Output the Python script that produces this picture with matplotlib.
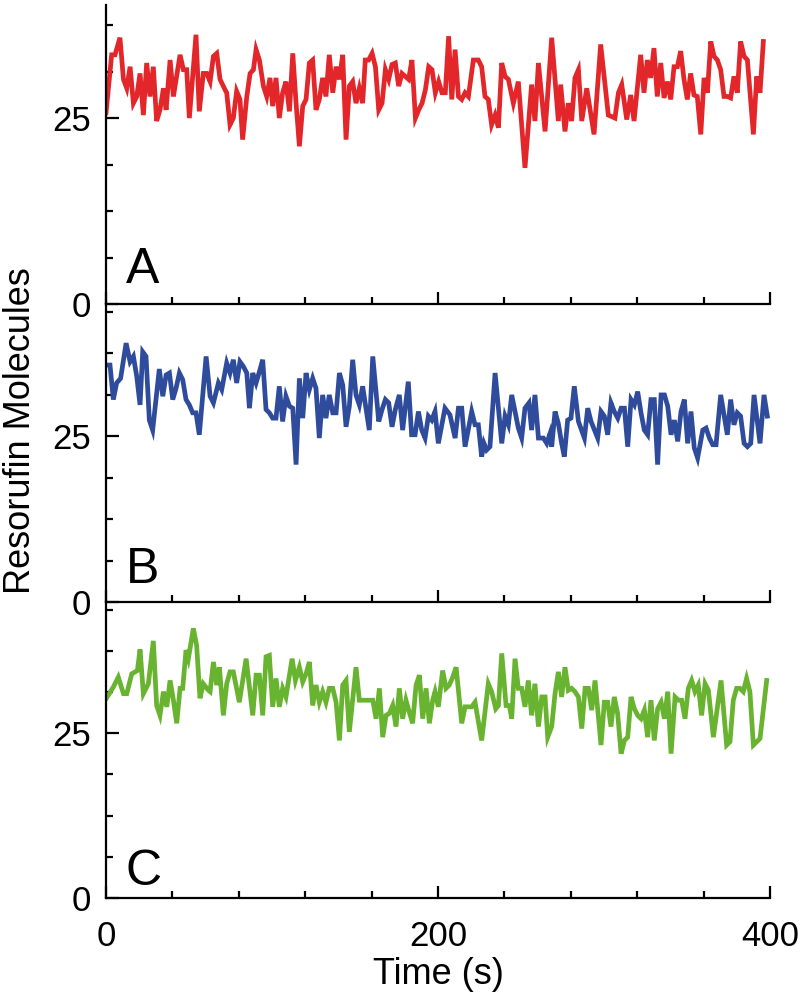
import matplotlib
matplotlib.use("Agg")
import matplotlib.pyplot as plt
from matplotlib.ticker import FixedLocator, MultipleLocator

plt.rcParams['font.family'] = ['Liberation Sans', 'DejaVu Sans']

# panel A (red)
t_a = [0, 3.4, 5.4, 8.4, 10.5, 12.5, 14.5, 16.5, 18.5, 20.5, 22.5, 24.5, 26.5, 28.5, 30.5,
       32.5, 34.6, 36.2, 38.6, 40.6, 44.6, 46.6, 48.6, 50.2, 54.2, 56.2, 58.6, 60.7, 62.7,
       64.7, 66.7, 68.7, 71.7, 72.7, 74.7, 76.7, 78.7, 80.7, 82.3, 84.8, 86.8, 88.8, 90.4,
       92.4, 94.8, 96.8, 98.8, 100.4, 102.4, 104.4, 106.4, 108.4, 110.5, 112.5, 114.5, 116.5,
       118.5, 120.5, 122.5, 124.5, 126.5, 128.5, 130.5, 132.5, 134.5, 136.6, 138.6, 140.6,
       142.6, 144.6, 146.6, 148.6, 150.6, 152.6, 154.6, 156.2, 158.2, 160.3, 162.3, 164.3,
       166.3, 168.3, 170.3, 172.3, 174.3, 176.3, 178.3, 180.3, 182.3, 184.3, 186.4, 188.4,
       190.4, 192.4, 194.4, 196.4, 198.4, 200.4, 202.4, 204.4, 206.4, 208.3, 210.3, 212.3,
       214.3, 216.3, 218.3, 221.3, 224.3, 226.3, 228.3, 230.3, 232.3, 234.4, 236.4, 238.4,
       240.4, 242.4, 245.4, 248.4, 252.4, 256.4, 258.4, 260.5, 264.5, 268.5, 272.5, 273.9,
       276.5, 278.5, 280.5, 282.5, 284.6, 286.6, 289.6, 294.0, 298.0, 302.6, 306.6, 308.7,
       310.7, 313.7, 316.1, 318.1, 322.1, 324.1, 326.1, 328.1, 330.1, 332.1, 334.2, 336.2,
       338.2, 340.2, 342.2, 344.2, 346.2, 348.2, 350.2, 352.2, 354.2, 356.2, 358.3, 360.3,
       362.3, 364.3, 366.3, 368.3, 370.3, 372.3, 374.3, 376.3, 378.3, 380.3, 382.3, 384.4,
       386.4, 390.0, 392.0, 394.0, 396.0]
a_vals = [25.7, 33.5, 33.5, 35.8, 30.2, 29.0, 31.9, 27.0, 27.9, 31.0, 25.4, 32.4, 27.9, 31.9, 24.6,
          26.1, 29.0, 26.1, 32.8, 27.9, 33.5, 31.5, 31.5, 25.0, 36.2, 25.9, 31.0, 31.0, 29.9,
          33.3, 33.7, 30.2, 28.8, 28.4, 24.1, 25.0, 28.6, 27.5, 22.1, 27.9, 31.0, 31.5, 34.2,
          32.8, 29.3, 27.9, 30.4, 26.6, 30.4, 25.0, 28.4, 29.9, 25.9, 33.7, 27.0, 21.2,
          26.6, 27.5, 32.4, 32.8, 26.1, 27.5, 30.4, 27.9, 33.5, 28.4, 31.9, 30.2,
          33.5, 22.1, 29.3, 29.9, 27.0, 29.0, 27.0, 32.8, 32.8, 33.7, 31.9, 26.1,
          27.0, 31.5, 30.2, 32.2, 32.4, 29.3, 31.0, 30.6, 30.2, 32.8, 25.0, 26.1,
          27.0, 28.8, 31.9, 31.5, 28.4, 29.9, 28.4, 28.4, 36.0, 27.5, 34.2, 27.9,
          27.5, 28.4, 27.9, 32.8, 32.8, 31.9, 27.9, 27.5, 24.1, 25.4, 23.7, 32.4,
          30.6, 30.2, 27.0, 29.9, 18.3, 29.5, 24.6, 32.4, 23.2, 35.8, 24.6, 29.5,
          23.2, 27.0, 24.6, 30.4, 31.5, 24.6, 29.0, 22.8, 34.9, 25.4, 25.0, 28.4,
          29.5, 24.8, 28.1, 24.6, 33.5, 28.4, 32.8, 30.4, 34.4, 27.9, 32.4, 27.7,
          29.9, 27.5, 31.9, 31.9, 34.0, 30.2, 27.5, 31.0, 28.1, 27.9, 22.8, 30.4,
          28.4, 35.3, 33.3, 32.8, 31.5, 27.9, 27.9, 27.7, 30.6, 28.4, 35.3, 33.3,
          32.8, 22.8, 30.6, 28.4, 35.3]

# panel B (blue)
t_b = [0, 2.4, 4.4, 6.4, 8.8, 12.1, 14.5, 16.5, 18.5, 20.5, 22.1, 24.1, 26.1, 28.1, 32.1, 34.2,
       36.2, 38.2, 40.2, 42.2, 44.2, 46.2, 48.2, 50.2, 52.2, 54.2, 56.2, 60.3, 62.7, 64.7,
       67.7, 69.7, 72.7, 74.7, 76.7, 78.7, 80.7, 82.7, 84.8, 86.4, 88.4, 90.4, 92.4, 94.4,
       96.4, 98.4, 100.4, 102.4, 104.4, 106.4, 108.4, 110.5, 112.5, 114.5, 116.5, 118.5,
       120.5, 122.5, 124.5, 126.5, 128.5, 130.5, 132.5, 134.5, 136.6, 138.6, 140.6, 142.6,
       144.6, 146.6, 148.6, 150.6, 152.6, 154.6, 158.6, 160.7, 164.3, 166.3, 168.3, 170.3,
       172.3, 174.3, 176.7, 178.7, 182.1, 184.1, 186.2, 188.2, 190.2, 192.2, 194.2, 196.2,
       198.2, 200.2, 204.2, 207.2, 210.3, 212.3, 214.3, 216.3, 220.3, 222.3, 224.3, 226.3,
       227.7, 229.3, 231.3, 234.4, 238.4, 240.4, 242.4, 244.4, 246.4, 248.4, 250.4, 252.4,
       254.8, 256.4, 258.4, 260.5, 263.5, 265.5, 267.5, 268.5, 270.5, 272.5, 274.5, 276.1,
       278.1, 280.1, 282.1, 284.6, 288.2, 290.2, 292.2, 296.2, 298.2, 300.2, 302.2, 304.2,
       306.2, 308.3, 310.3, 312.3, 314.3, 316.3, 318.3, 320.3, 322.3, 324.3, 326.3, 328.3,
       330.3, 332.3, 334.4, 336.4, 338.4, 340.4, 342.4, 344.4, 346.4, 348.4, 350.4, 352.4,
       354.4, 356.4, 359.5, 361.5, 363.5, 365.5, 367.5, 370.3, 374.3, 376.3, 378.3, 380.3,
       382.3, 384.4, 386.4, 388.4, 390.4, 394.0, 396.4, 398.4]
b_vals = [35.7, 35.7, 30.5, 33.0, 33.7, 39.0, 36.2, 37.0, 34.0, 29.7, 37.7, 37.0, 27.4, 25.9, 35.1, 31.0,
          34.2, 34.5, 30.5, 32.2, 34.5, 33.5, 30.5, 29.7, 28.5, 28.5, 25.2, 37.0, 31.0, 30.0,
          33.0, 32.0, 36.0, 34.5, 36.5, 33.0, 36.2, 35.5, 34.5, 29.2, 34.5, 33.0, 34.7, 36.5,
          29.0, 28.5, 27.7, 27.7, 32.5, 27.2, 31.0, 29.5, 29.2, 20.7, 33.7, 27.7,
          34.5, 32.0, 33.7, 32.2, 24.7, 31.2, 27.7, 31.2, 28.5, 28.5, 34.5, 32.7,
          26.4, 29.5, 36.5, 31.2, 29.7, 32.5, 25.9, 37.0, 27.2, 29.0, 30.5, 30.0,
          26.4, 29.0, 31.2, 25.9, 33.2, 25.2, 25.2, 28.7, 25.9, 24.7, 28.0, 27.4,
          28.7, 23.9, 29.2, 28.2, 24.7, 29.2, 29.2, 23.4, 28.7, 26.7, 26.7, 21.9,
          23.9, 22.9, 23.4, 34.5, 23.9, 28.0, 26.7, 31.2, 28.7, 26.2, 24.7, 29.2,
          30.0, 25.9, 31.2, 24.7, 24.7, 23.9, 25.4, 23.4, 28.7, 26.9, 23.9, 21.9,
          27.4, 27.7, 32.5, 27.2, 24.7, 29.2, 27.2, 24.7, 28.7, 28.0, 25.2, 30.0,
          28.7, 27.7, 29.2, 29.2, 23.4, 30.5, 29.7, 31.7, 28.5, 25.9, 25.2, 30.5,
          30.5, 20.7, 31.2, 31.2, 29.5, 25.2, 27.4, 24.2, 28.7, 30.5, 23.9, 28.7,
          23.2, 21.7, 25.9, 26.2, 24.7, 23.7, 23.7, 31.2, 25.2, 30.5, 26.7, 28.5,
          28.0, 23.9, 23.4, 23.9, 31.2, 23.9, 31.2, 28.0]

# panel C (green)
t_c = [0, 4.4, 7.4, 10.5, 12.5, 15.5, 17.5, 18.9, 20.5, 22.5, 25.5, 28.5, 30.5, 32.5, 34.6, 36.6,
       38.6, 40.6, 42.6, 44.6, 46.2, 48.2, 49.6, 52.6, 54.6, 56.6, 58.6, 61.7, 62.7, 64.7,
       66.7, 68.3, 70.7, 72.7, 74.7, 76.7, 80.3, 84.4, 88.4, 90.4, 92.4, 94.4, 96.4, 98.4,
       100.4, 102.4, 104.4, 106.4, 108.4, 112.1, 114.1, 116.5, 118.5, 120.5, 122.5, 124.5,
       126.5, 128.5, 130.5, 132.5, 134.5, 136.6, 138.6, 140.6, 142.6, 144.6, 146.6, 150.6,
       152.6, 156.6, 160.7, 162.7, 164.7, 166.7, 168.7, 170.7, 172.7, 174.7, 176.7, 178.7,
       180.7, 182.7, 184.7, 186.8, 188.8, 190.8, 192.8, 194.8, 196.8, 198.2, 200.2, 202.8,
       204.8, 206.8, 208.9, 210.9, 214.3, 216.3, 218.3, 220.3, 222.3, 226.3, 230.3, 232.3,
       234.8, 236.4, 238.4, 241.0, 243.0, 244.4, 246.4, 248.4, 250.4, 252.4, 254.4, 256.4,
       258.4, 260.5, 262.5, 264.5, 266.1, 268.5, 270.5, 272.5, 274.5, 276.5, 278.5, 280.5,
       282.5, 284.6, 286.6, 288.6, 290.6, 292.6, 294.6, 298.2, 300.2, 302.2, 304.2, 306.2,
       308.2, 310.3, 312.3, 314.3, 316.3, 318.3, 320.3, 322.3, 324.3, 326.3, 328.3, 330.3,
       332.3, 334.4, 336.4, 338.4, 340.4, 342.8, 344.8, 346.8, 348.8, 350.8, 352.8, 354.8,
       356.8, 358.8, 360.9, 362.9, 365.9, 370.5, 373.9, 375.9, 377.9, 379.9, 381.9, 383.9,
       385.9, 387.9, 390.0, 394.0, 398.0]
c_vals = [30.2, 32.0, 33.5, 31.0, 31.0, 34.0, 34.3, 34.5, 37.7, 31.0, 32.5, 39.0, 29.2, 27.7, 31.3, 29.0,
          33.0, 30.0, 26.5, 31.8, 31.8, 37.6, 36.3, 40.9, 38.3, 30.3, 32.5, 31.5, 31.3, 35.8,
          32.3, 35.0, 27.7, 32.5, 34.3, 34.3, 29.7, 36.3, 27.7, 33.8, 33.8, 27.7, 36.6, 36.8,
          29.0, 33.3, 29.0, 31.8, 30.5, 36.3, 33.0, 35.0, 32.8, 34.0, 35.8, 29.2,
          32.3, 29.7, 31.3, 29.7, 31.8, 31.8, 29.7, 23.9, 32.3, 33.0, 25.2, 35.0,
          30.0, 30.0, 30.0, 27.2, 31.8, 24.4, 27.7, 28.0, 29.2, 26.0, 31.8, 27.2,
          30.0, 28.2, 26.5, 32.3, 33.8, 27.2, 31.8, 26.5, 30.0, 31.3, 29.0, 34.5,
          31.8, 32.3, 33.5, 35.0, 26.5, 29.0, 29.0, 29.0, 29.7, 23.9, 32.5, 31.3,
          28.7, 29.2, 37.1, 29.2, 29.2, 27.2, 36.3, 31.8, 31.8, 29.0, 33.0, 27.7,
          32.5, 26.0, 30.5, 30.5, 24.4, 26.0, 31.0, 34.3, 30.5, 35.0, 31.5, 31.8,
          31.3, 30.5, 25.7, 31.8, 31.8, 28.5, 33.0, 23.2, 29.7, 29.7, 26.0, 30.5,
          28.0, 21.9, 23.9, 24.4, 30.5, 28.7, 27.7, 27.2, 28.5, 24.4, 30.0, 23.9,
          28.7, 29.7, 27.2, 31.3, 21.9, 30.5, 30.0, 30.0, 27.2, 31.8, 33.0, 31.3,
          32.3, 27.7, 32.5, 31.5, 24.4, 33.0, 23.2, 23.7, 30.0, 31.8, 31.8, 31.3,
          33.3, 31.3, 23.2, 24.2, 33.0]

panel_names = ['A', 'B', 'C']
y_tops = [40.2, 44.9, 44.9]
colors = ['#e3262a', '#2f4b9c', '#68b32f']

fig = plt.figure(figsize=(8.05, 9.98), dpi=100)
boxes = [(0.1317, 0.6954, 0.8248, 0.2996),
         (0.1317, 0.3968, 0.8248, 0.2986),
         (0.1317, 0.1002, 0.8248, 0.2966)]
label_pos = [(0.03, 0.07), (0.03, 0.064), (0.03, 0.045)]
series = [(t_a, a_vals), (t_b, b_vals), (t_c, c_vals)]

for i, (t, v) in enumerate(series):
    ax = fig.add_axes(boxes[i])
    ax.plot(t, v, color=colors[i], lw=3.4, solid_joinstyle='miter')
    ax.set_xlim(0, 400)
    ax.set_ylim(0, y_tops[i])
    for s in ['top', 'right']:
        ax.spines[s].set_visible(False)
    for s in ['left', 'bottom']:
        ax.spines[s].set_linewidth(1.6)
    ax.yaxis.set_major_locator(FixedLocator([0, 25]))
    ax.yaxis.set_minor_locator(MultipleLocator(6.25))
    ax.xaxis.set_major_locator(FixedLocator([0, 200, 400]))
    ax.xaxis.set_minor_locator(MultipleLocator(40))
    ax.tick_params(axis='both', which='major', direction='in', length=9, width=1.6)
    ax.tick_params(axis='both', which='minor', direction='in', length=5, width=1.6)
    ax.tick_params(axis='y', labelsize=25, pad=11)
    ax.tick_params(axis='x', labelsize=25, pad=16)
    if i < 2:
        ax.tick_params(axis='x', labelbottom=False)
    else:
        ax.set_xlabel('Time (s)', fontsize=26, labelpad=3)
    ax.text(label_pos[i][0], label_pos[i][1], panel_names[i], transform=ax.transAxes,
            fontsize=36, ha='left', va='baseline')
    ax.patch.set_visible(False)

fig.text(0.025, 0.569, 'Resorufin Molecules', rotation=90, fontsize=26,
         ha='center', va='center')

fig.savefig('out.png', dpi=100)
